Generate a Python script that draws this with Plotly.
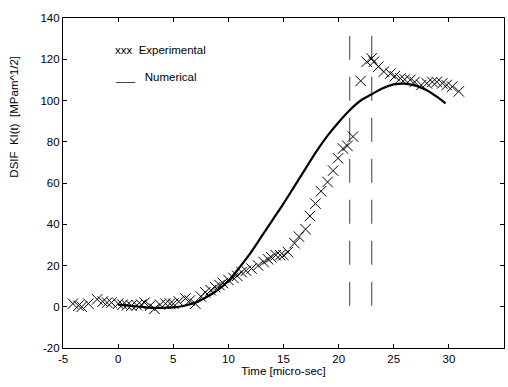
import plotly.graph_objects as go

# Experimental data (time in micro-sec, DSIF)
exp_t = [-4.1, -3.6, -3.3, -2.7, -1.9, -1.4, -1.0, -0.6, 0.0, 0.4, 0.8, 1.2, 1.7, 2.1, 2.4,
         2.9, 3.3, 3.8, 4.3, 4.7, 5.0, 5.5, 6.1, 6.5, 7.0, 7.5, 7.9, 8.4, 8.8, 9.2, 9.5,
         10.0, 10.45, 10.8, 11.2, 11.6, 12.1, 12.7, 13.2, 13.6, 13.9, 14.3, 14.7, 15.0,
         15.4, 16.0, 16.4, 17.0, 17.4, 17.9, 18.4, 19.0, 19.5, 19.95, 20.4, 20.8, 21.3,
         22.0, 22.55, 23.0, 23.2, 23.6, 24.1, 24.7, 25.1, 25.6, 26.0, 26.5, 26.9, 27.5,
         28.0, 28.5, 28.9, 29.4, 29.8, 30.3, 30.9]
exp_k = [1.5, 0.5, 0.0, 1.5, 3.6, 2.5, 2.0, 2.0, 1.5, 1.0, 0.7, 0.5, 0.7, 1.0, 2.0,
         0.5, -1.0, 1.0, 1.5, 1.5, 1.5, 2.5, 4.0, 3.0, 1.5, 5.0, 7.0, 8.0, 9.5, 10.5, 11.5,
         13.0, 14.0, 15.0, 16.8, 17.5, 18.5, 20.0, 21.7, 23.0, 24.0, 25.0, 25.0, 25.0,
         26.5, 30.8, 34.0, 37.6, 44.0, 50.0, 56.0, 60.5, 66.0, 72.0, 76.7, 78.0, 82.5,
         109.5, 118.8, 120.4, 118.8, 116.4, 114.0, 113.0, 111.8, 110.7, 110.2, 110.0, 109.0, 107.5,
         108.3, 109.0, 109.0, 108.3, 107.5, 106.7, 104.4]

# Numerical curve
num_t = [0, 1, 2, 3, 4, 5, 6, 7, 8, 9, 10, 11, 12, 13, 14, 15, 16, 17, 18, 19, 20,
         21, 22, 23, 24, 25, 26, 27, 28, 29, 29.7]
num_k = [1.0, 0.5, 0.0, -0.5, -0.5, -0.3, 0.5, 2.0, 4.7, 8.0, 12.5, 19.0, 26.0, 34.0,
         42.0, 50.0, 58.5, 67.0, 75.5, 83.0, 89.5, 95.3, 100.0, 103.0, 106.0, 107.8,
         108.2, 107.2, 105.0, 101.5, 98.6]

# Vertical markers
vline_t = [21, 23]
vline_k = [0.5, 135]

x_ticks = [-5, 0, 5, 10, 15, 20, 25, 30, 35]
y_ticks = [-20, 0, 20, 40, 60, 80, 100, 120, 140]

FONT = "Liberation Sans, Arial, sans-serif"

fig = go.Figure()

for t in vline_t:
    fig.add_trace(go.Scatter(
        x=[t, t], y=vline_k, mode="lines",
        line=dict(color="#6a6a6a", width=1.3, dash="24px,17px"),
        showlegend=False, hoverinfo="skip"))

fig.add_trace(go.Scatter(
    x=num_t, y=num_k, mode="lines", line=dict(color="black", width=2.2, shape="spline"),
    showlegend=False))

fig.add_trace(go.Scatter(
    x=exp_t, y=exp_k, mode="markers",
    marker=dict(symbol="x-thin-open", size=10.5, color="black",
                line=dict(color="black", width=1)),
    showlegend=False))

fig.add_annotation(x=-0.5, y=124.5, xref="x", yref="y", text="xxx  Experimental",
                   showarrow=False, xanchor="left", yanchor="middle",
                   font=dict(family=FONT, size=11.5, color="black"))
fig.add_annotation(x=-0.5, y=111.5, xref="x", yref="y", text="___   Numerical",
                   showarrow=False, xanchor="left", yanchor="middle",
                   font=dict(family=FONT, size=11.5, color="black"))

fig.add_annotation(x=-0.11, y=92.4, xref="paper", yref="y",
                   text="DSIF  KI(t)  [MPam^1/2]", textangle=-90,
                   showarrow=False, xanchor="center", yanchor="middle",
                   font=dict(family=FONT, size=11.5, color="black"))

axis_common = dict(
    showgrid=False, zeroline=False, showline=True, linecolor="black", linewidth=1.2,
    mirror="allticks", ticks="inside", ticklen=4, tickcolor="black", tickwidth=1,
    tickfont=dict(family=FONT, size=11.5, color="black"), automargin=False,
)

fig.update_xaxes(range=[-5, 35], tickvals=x_ticks, ticktext=[str(v) for v in x_ticks],
                 title=dict(text="Time [micro-sec]", font=dict(family=FONT, size=11.5, color="black"),
                            standoff=2),
                 **axis_common)
fig.update_yaxes(range=[-20, 140], tickvals=y_ticks, ticktext=[str(v) for v in y_ticks],
                 **axis_common)

fig.update_layout(
    width=508, height=387,
    margin=dict(l=63, r=4, t=18, b=39),
    paper_bgcolor="white", plot_bgcolor="white",
    font=dict(family=FONT, size=11.5, color="black"),
)

fig.write_html("out.html", config={"displayModeBar": False},
               post_script="document.body.style.margin='0';")
